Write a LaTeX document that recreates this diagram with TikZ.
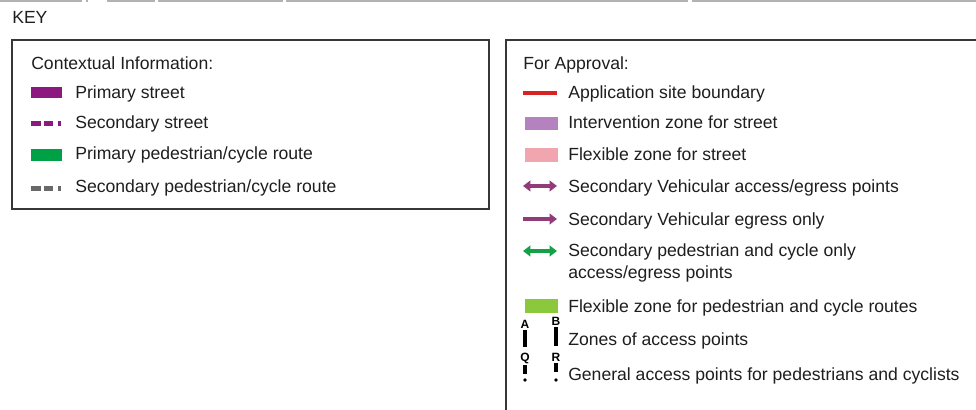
\documentclass[tikz,border=0pt]{standalone}
\usepackage{fontspec}
\setmainfont{Liberation Sans}
\usetikzlibrary{arrows.meta}

\definecolor{keyframe}{RGB}{55,55,55}
\definecolor{keytext}{RGB}{30,30,30}
\definecolor{primst}{RGB}{140,25,128}
\definecolor{primped}{RGB}{0,160,70}
\definecolor{secped}{RGB}{105,105,105}
\definecolor{siteline}{RGB}{215,35,35}
\definecolor{interzone}{RGB}{180,130,190}
\definecolor{flexzone}{RGB}{240,165,175}
\definecolor{vehacc}{RGB}{145,60,120}
\definecolor{pedacc}{RGB}{20,160,70}
\definecolor{flexped}{RGB}{140,200,60}

\tikzset{
    keylabel/.style={anchor=base west,inner sep=0pt,text=keytext,font=\fontsize{13.2}{16}\selectfont},
    keybox/.style={draw=keyframe,line width=1.3pt},
    dashswatch/.style={line width=3.6pt,dash pattern=on 7.2pt off 2.3pt on 7.2pt off 3.7pt on 2pt off 60pt},
    acctip/.style={Triangle[length=5.5pt,width=8pt]},
    accarrow/.style={line width=2.8pt,{Triangle[length=5.5pt,width=8pt]}-{Triangle[length=5.5pt,width=8pt]}},
    pointlbl/.style={inner sep=0pt,font=\bfseries\fontsize{9}{9}\selectfont},
}

\begin{document}
\begin{tikzpicture}[x=0.75pt,y=-0.75pt]
    \useasboundingbox (0,0) rectangle (976,410);
    \clip (0,0) rectangle (976,410);

    % cut-off rules along the top edge
    \foreach \a/\b in {0/82,86/88,107/155,158/283,286/688,692/976}
        \draw[gray!60,line width=1pt] (\a,1) -- (\b,1);

    \node[keylabel] (key) at (12,24) {KEY};

    % contextual information
    \draw[keybox] (12,40) rectangle (489,209);
    \node[keylabel] (ctx) at (31,70) {Contextual Information:};
    \fill[primst] (31,87) rectangle (62,98);
    \node[keylabel] (pst) at (75,99) {Primary street};
    \draw[dashswatch,primst] (31,123.5) -- (63,123.5);
    \node[keylabel] (sst) at (75,129) {Secondary street};
    \fill[primped] (31,149) rectangle (62,161);
    \node[keylabel] (pped) at (75,160) {Primary pedestrian/cycle route};
    \draw[dashswatch,secped] (31,188.5) -- (63,188.5);
    \node[keylabel] (sped) at (75,192) {Secondary pedestrian/cycle route};

    % for approval
    \draw[keybox] (506,40) rectangle (1000,440);
    \node[keylabel] (appr) at (523,70) {For Approval:};
    \draw[siteline,line width=2.5pt] (523,93) -- (557,93);
    \node[keylabel] (site) at (568,99) {Application site boundary};
    \fill[interzone] (525,117) rectangle (558,130);
    \node[keylabel] (izone) at (568,129) {Intervention zone for street};
    \fill[flexzone] (525,148) rectangle (558,162);
    \node[keylabel] (fzone) at (568,161) {Flexible zone for street};
    \draw[accarrow,vehacc] (523,186) -- (557,186);
    \node[keylabel] (vacc) at (568,192) {Secondary Vehicular access/egress points};
    \draw[vehacc,line width=2.8pt,-{Triangle[length=5.5pt,width=8pt]}] (523,219) -- (557,219);
    \node[keylabel] (vegr) at (568,225) {Secondary Vehicular egress only};
    \draw[accarrow,pedacc] (523,251) -- (557,251);
    \node[keylabel] (pacc) at (568,257) {Secondary pedestrian and cycle only};
    \node[keylabel] (pacc2) at (568,278) {access/egress points};
    \fill[flexped] (525,299) rectangle (558,313);
    \node[keylabel] (fped) at (568,312) {Flexible zone for pedestrian and cycle routes};

    % access point markers
    \node[pointlbl] (ptA) at (525,324) {A};
    \node[pointlbl] (ptB) at (556,321) {B};
    \draw[line width=2.6pt] (ptA.south) ++(0,1.5) -- ++(0,17);
    \draw[line width=2.6pt] (ptB.south) ++(0,1.5) -- ++(0,19);
    \node[keylabel] (zacc) at (568,345) {Zones of access points};
    \node[pointlbl] (ptQ) at (525,358) {Q};
    \node[pointlbl] (ptR) at (556,357) {R};
    \draw[line width=2.6pt] (ptQ.south) ++(0,1.5) -- ++(0,9);
    \fill (525,380) circle (1.8);
    \draw[line width=2.6pt] (ptR.south) ++(0,1.5) -- ++(0,9);
    \fill (556,380) circle (1.8);
    \node[keylabel] (gacc) at (568,380) {General access points for pedestrians and cyclists};
\end{tikzpicture}
\end{document}
